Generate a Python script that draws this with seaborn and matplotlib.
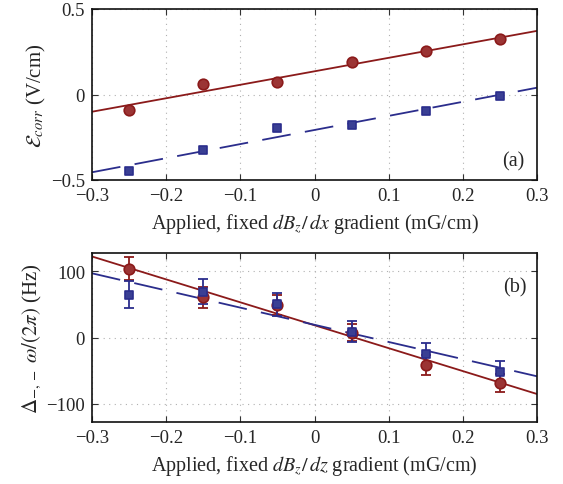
import numpy as np
import pandas as pd
import matplotlib
matplotlib.use("Agg")
import matplotlib.pyplot as plt
import seaborn as sns

# Applied gradient settings (mG/cm)
gradient = [-0.25, -0.15, -0.05, 0.05, 0.15, 0.25]

# (a) correlated electric field vs applied dBz/dx
ecorr_red = [-0.089, 0.061, 0.075, 0.188, 0.256, 0.323]
ecorr_blue = [-0.446, -0.323, -0.194, -0.178, -0.095, -0.009]

# (b) frequency shift vs applied dBz/dz, with uncertainties
freq_red = [104.5, 61.0, 49.0, 7.0, -41.4, -68.7]
freq_red_err = [17.0, 16.0, 15.0, 13.0, 15.0, 13.5]
freq_blue = [65.0, 69.0, 50.0, 8.6, -24.7, -52.5]
freq_blue_err = [21.0, 19.0, 17.0, 16.0, 17.0, 17.5]

x_ticks = [-0.3, -0.2, -0.1, 0, 0.1, 0.2, 0.3]
x_tick_labels = ["\u22120.3", "\u22120.2", "\u22120.1", "0", "0.1", "0.2", "0.3"]
ya_ticks = [-0.5, 0, 0.5]
ya_tick_labels = ["\u22120.5", "0", "0.5"]
yb_ticks = [-100, 0, 100]
yb_tick_labels = ["\u2212100", "0", "100"]

RED = "#8b1a1a"
RED_FILL = "#9b3434"
BLUE = "#2b2d8c"
BLUE_FILL = "#3a3f94"

sns.set_style("ticks")
plt.rcParams["font.family"] = ["Liberation Serif", "DejaVu Serif"]
plt.rcParams["mathtext.fontset"] = "stix"
plt.rcParams["font.size"] = 13

fig = plt.figure(figsize=(5.63, 4.85), dpi=100)
W, H = 563, 485
ax_a = fig.add_axes([92 / W, 1 - 181 / H, 445 / W, 171 / H])
ax_b = fig.add_axes([92 / W, 1 - 423 / H, 445 / W, 169 / H])

xfit = np.linspace(-0.3, 0.3, 50)


def fit_line(x, y):
    k, b = np.polyfit(x, y, 1)
    return pd.DataFrame({"x": xfit, "y": k * xfit + b})


def style_axes(ax, yticks, ylabels, ylim):
    ax.set_xlim(-0.3, 0.3)
    ax.set_ylim(*ylim)
    ax.set_xticks(x_ticks)
    ax.set_xticklabels(x_tick_labels)
    ax.set_yticks(yticks)
    ax.set_yticklabels(ylabels)
    ax.tick_params(direction="in", top=True, right=True, length=4,
                   width=0.8, labelsize=13.5, pad=5, color="#333333")
    ax.grid(True, linestyle=(0, (1, 4)), color="#b0b0b0", linewidth=0.8)
    for s in ax.spines.values():
        s.set_linewidth(1.2)
        s.set_color("#111111")


# ---- panel (a)
df_a = pd.DataFrame({"x": gradient, "red": ecorr_red, "blue": ecorr_blue})
sns.lineplot(data=fit_line(gradient, ecorr_red), x="x", y="y", ax=ax_a,
             color=RED, linewidth=1.3, zorder=2)
sns.lineplot(data=fit_line(gradient, ecorr_blue), x="x", y="y", ax=ax_a,
             color=BLUE, linewidth=1.3, zorder=2)
ax_a.lines[-1].set_dashes((16, 8))
sns.scatterplot(data=df_a, x="x", y="red", ax=ax_a, marker="o", s=58,
                color=RED_FILL, edgecolor=RED, linewidth=1.2, zorder=3)
sns.scatterplot(data=df_a, x="x", y="blue", ax=ax_a, marker="s", s=40,
                color=BLUE_FILL, edgecolor=BLUE, linewidth=1.2, zorder=3)
style_axes(ax_a, ya_ticks, ya_tick_labels, (-0.5, 0.5))
ax_a.set_xlabel(r"Applied, fixed $dB_z/\,dx$ gradient (mG/cm)", fontsize=14.5, labelpad=5)
ax_a.set_ylabel(r"$\mathcal{E}_{corr}$ (V/cm)", fontsize=15, labelpad=2)
ax_a.text(0.268, -0.39, "(a)", fontsize=14.5, ha="center", va="center")

# ---- panel (b)
df_b = pd.DataFrame({"x": gradient, "red": freq_red, "blue": freq_blue})
sns.lineplot(data=fit_line(gradient, freq_red), x="x", y="y", ax=ax_b,
             color=RED, linewidth=1.3, zorder=2)
sns.lineplot(data=fit_line(gradient, freq_blue), x="x", y="y", ax=ax_b,
             color=BLUE, linewidth=1.3, zorder=2)
ax_b.lines[-1].set_dashes((16, 8))
ax_b.errorbar(gradient, freq_red, yerr=freq_red_err, fmt="none", ecolor=RED,
              elinewidth=1.3, capsize=3.5, capthick=1.3, zorder=3)
ax_b.errorbar(gradient, freq_blue, yerr=freq_blue_err, fmt="none", ecolor=BLUE,
              elinewidth=1.3, capsize=3.5, capthick=1.3, zorder=3)
sns.scatterplot(data=df_b, x="x", y="red", ax=ax_b, marker="o", s=58,
                color=RED_FILL, edgecolor=RED, linewidth=1.2, zorder=4)
sns.scatterplot(data=df_b, x="x", y="blue", ax=ax_b, marker="s", s=40,
                color=BLUE_FILL, edgecolor=BLUE, linewidth=1.2, zorder=4)
style_axes(ax_b, yb_ticks, yb_tick_labels, (-128, 128))
ax_b.set_xlabel(r"Applied, fixed $dB_z/\,dz$ gradient (mG/cm)", fontsize=14.5, labelpad=5)
ax_b.set_ylabel(r"$\Delta_{-,-}\ \omega/(2\pi)$ (Hz)", fontsize=15, labelpad=2)
ax_b.text(0.27, 76, "(b)", fontsize=14.5, ha="center", va="center")

fig.savefig("out.png", dpi=100)
